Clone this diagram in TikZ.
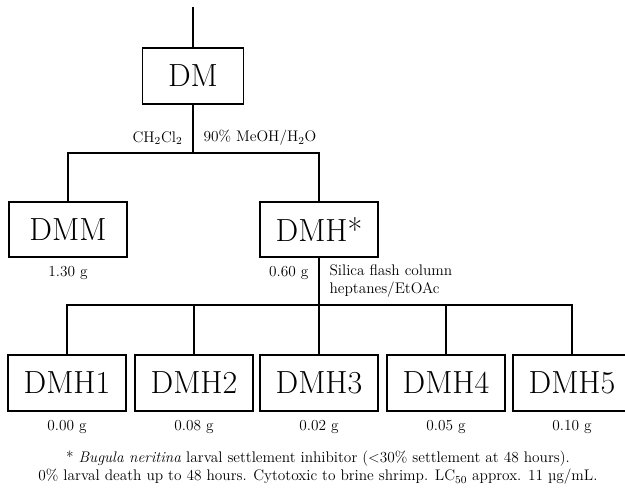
\documentclass[tikz,border=0pt]{standalone}
\usepackage{tikz}
\usetikzlibrary{positioning}

\begin{document}
\begin{tikzpicture}[
    x=0.75pt, y=-0.75pt,
    fraction/.style={rectangle, draw, line width=1.3pt, minimum width=88.5pt, minimum height=41.5pt, inner sep=0pt, font=\fontsize{24}{28}\selectfont},
    mass/.style={inner sep=1pt, font=\fontsize{11.5}{13.5}\selectfont},
    line/.style={line width=1.3pt}
]
\useasboundingbox (0,0) rectangle (625,492);

\node[fraction, minimum width=75.75pt, minimum height=42pt] (dm) at (193,76) {DM};
\coordinate (feed) at (193,7);
\coordinate (split) at (193,153);

\node[fraction] (dmm) at (68,229.5) {DMM};
\node[fraction] (dmh) at (319,229.5) {DMH*};

\node[fraction] (dmh1) at (67,383) {DMH1};
\node[fraction] (dmh2) at (194,383) {DMH2};
\node[fraction] (dmh3) at (319,383) {DMH3};
\node[fraction] (dmh4) at (446,383) {DMH4};
\node[fraction] (dmh5) at (572,383) {DMH5};
\coordinate (column) at (319,305);

\draw[line] (feed) -- (dm);
\draw[line] (dm) -- (split);
\draw[line] (split) -| (dmm);
\draw[line] (split) -| (dmh);
\draw[line] (dmh) -- (column);
\foreach \f in {dmh1,dmh2,dmh3,dmh4,dmh5}
    \draw[line] (column) -| (\f.north);

% Solvents and masses
\node[mass, anchor=east] (ch) at (184,138) {CH\textsubscript{2}Cl\textsubscript{2}};
\node[mass, anchor=west] (meoh) at (202,138) {90\% MeOH/H\textsubscript{2}O};
\node[mass] (m1) at (68,273) {1.30 g};
\node[mass, anchor=east] (m2) at (310,273) {0.60 g};
\node[mass, anchor=west, align=left] (silica) at (328,281) {Silica flash column\\heptanes/EtOAc};

\node[mass, below=5pt of dmh1] {0.00 g};
\node[mass, below=5pt of dmh2] {0.08 g};
\node[mass, below=5pt of dmh3] {0.02 g};
\node[mass, below=5pt of dmh4] {0.05 g};
\node[mass, below=5pt of dmh5] {0.10 g};

% Footnote
\node[mass, align=center] (note) at (318,468) {* \textit{Bugula neritina} larval settlement inhibitor (<30\% settlement at 48 hours).\\
    0\% larval death up to 48 hours. Cytotoxic to brine shrimp. LC\textsubscript{50} approx. 11 µg/mL.};

\end{tikzpicture}
\end{document}
